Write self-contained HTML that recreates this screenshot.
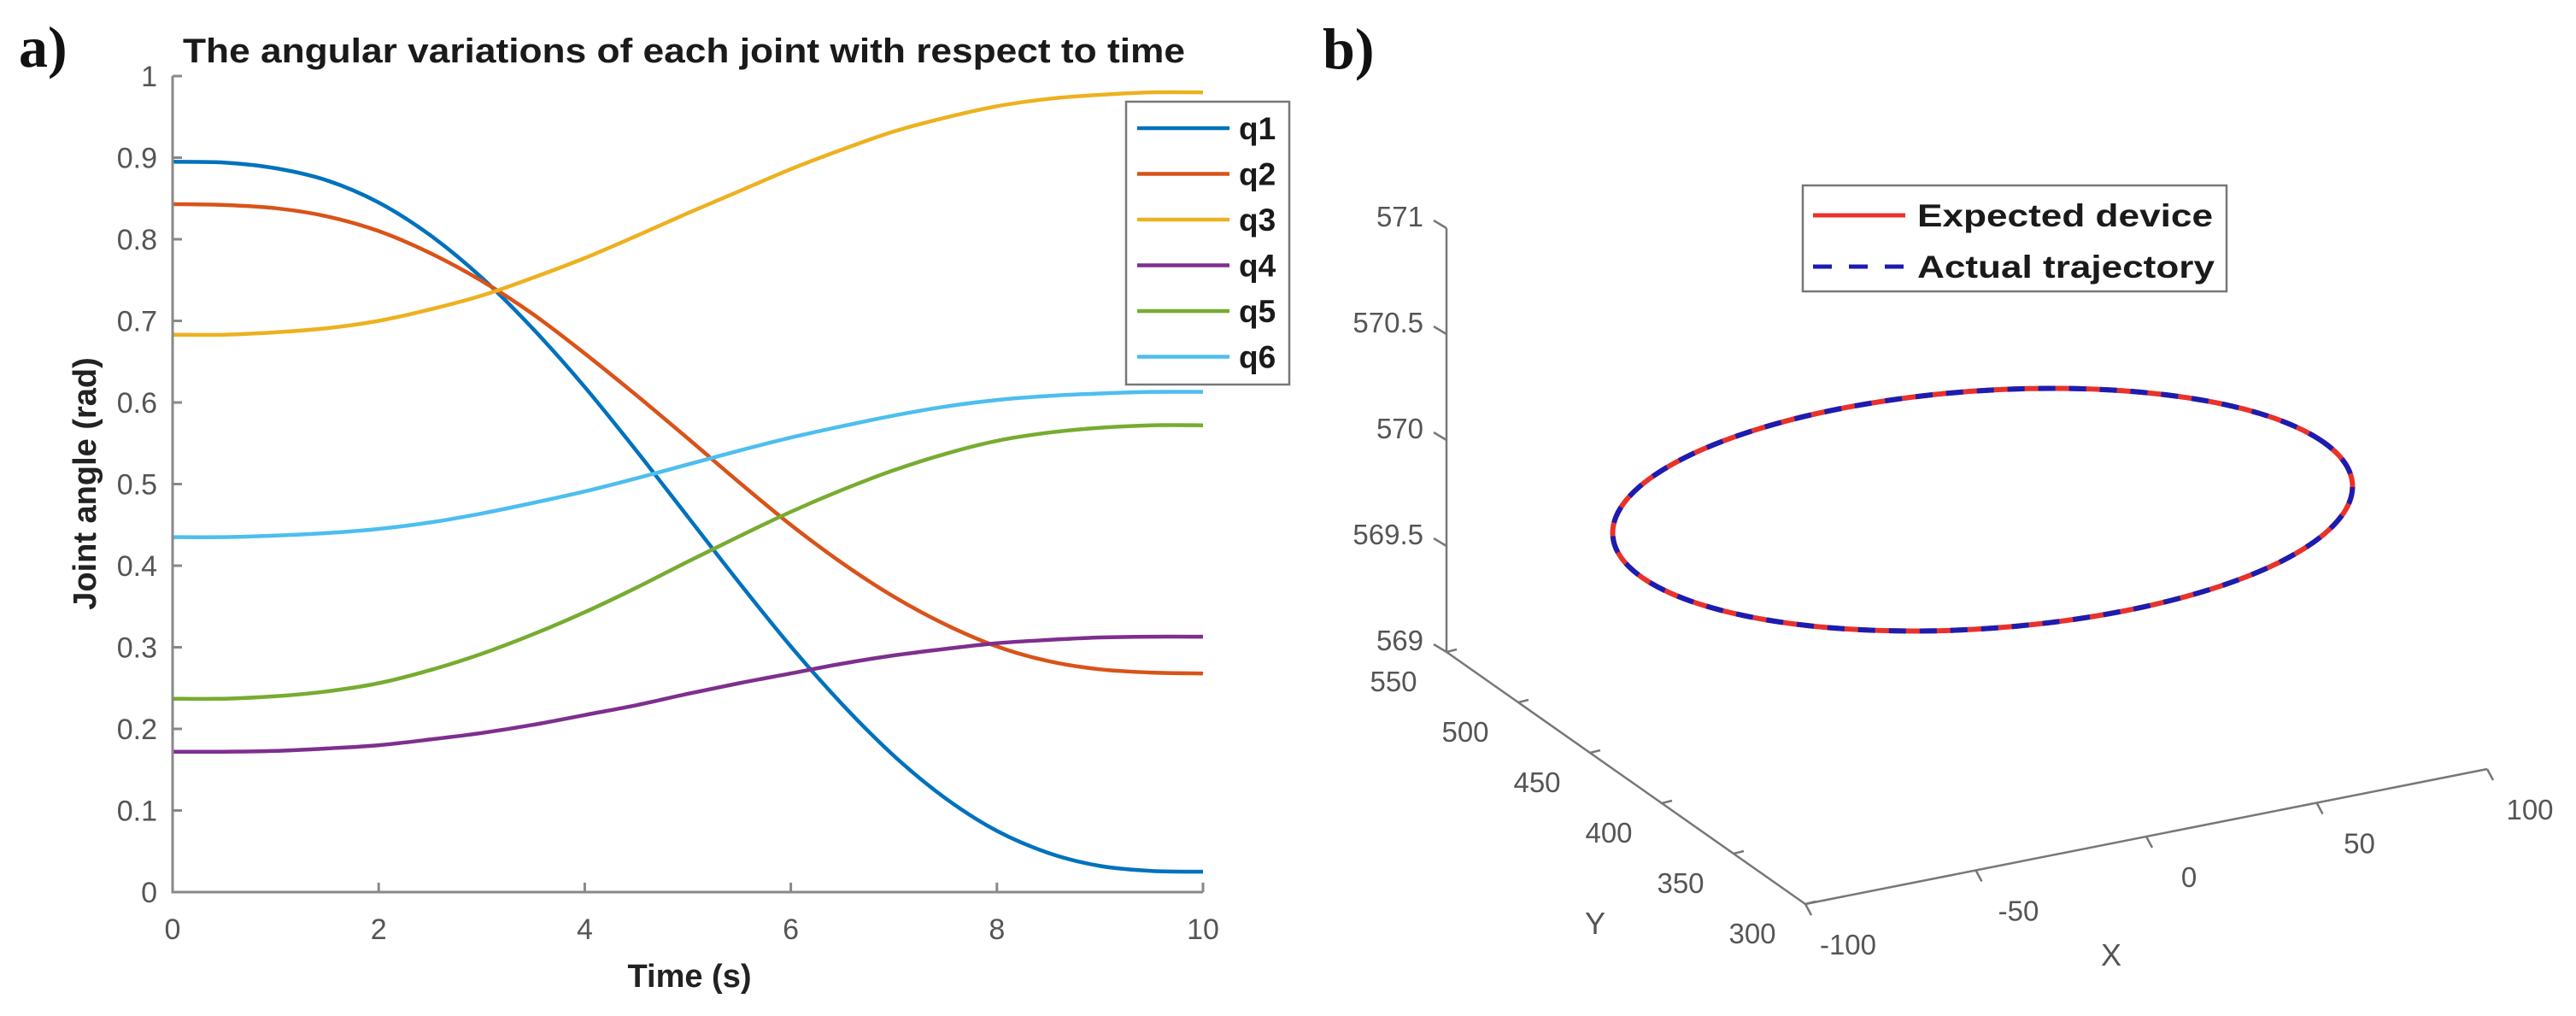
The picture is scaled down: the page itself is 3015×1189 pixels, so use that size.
<!DOCTYPE html>
<html><head><meta charset="utf-8"><style>
html,body{margin:0;padding:0;background:#fff;}
svg{display:block;font-family:"Liberation Sans",Arial,sans-serif;}
</style></head><body>
<svg id="svg" width="3015" height="1189" viewBox="0 0 3015 1189" xmlns="http://www.w3.org/2000/svg">
<text x="22" y="78" font-family="Liberation Serif,serif" font-weight="bold" font-size="68" fill="#111">a)</text>
<text x="1548" y="80" font-family="Liberation Serif,serif" font-weight="bold" font-size="68" fill="#111">b)</text>
<text x="214" y="73" font-weight="bold" font-size="40" fill="#1a1a1a" textLength="1173" lengthAdjust="spacingAndGlyphs">The angular variations of each joint with respect to time</text>
<text transform="translate(112,566) rotate(-90)" text-anchor="middle" font-weight="bold" font-size="38" fill="#222">Joint angle (rad)</text>
<text x="807" y="1155" text-anchor="middle" font-weight="bold" font-size="38" fill="#222">Time (s)</text>
<g id="gA"></g>
<g id="gB"></g>
</svg>
<script>
// ---- Panel a data ----
const times = [0,0.5,1,1.5,2,2.5,3,3.5,4,4.5,5,5.5,6,6.5,7,7.5,8,8.5,9,9.5,10];
const q1 = [.895,.894,.887,.872,.845,.805,.753,.690,.619,.541,.460,.379,.301,.230,.167,.115,.075,.048,.032,.026,.025];
const q2 = [.843,.842,.838,.828,.810,.783,.749,.708,.660,.609,.556,.502,.450,.403,.362,.328,.301,.283,.273,.269,.268];
const q3 = [.683,.683,.686,.691,.700,.714,.731,.753,.777,.804,.832,.859,.886,.910,.932,.949,.963,.972,.977,.980,.980];
const q4 = [.172,.172,.173,.176,.180,.187,.195,.205,.217,.229,.243,.256,.268,.280,.290,.298,.305,.309,.312,.313,.313];
const q5 = [.237,.237,.240,.246,.256,.272,.292,.316,.343,.373,.405,.436,.466,.493,.517,.537,.553,.563,.569,.572,.572];
const q6 = [.435,.435,.437,.440,.445,.453,.464,.477,.491,.507,.524,.541,.557,.571,.584,.595,.603,.608,.611,.613,.613];
const seriesNames = ["q1","q2","q3","q4","q5","q6"];
const xTicks = [0,2,4,6,8,10];
const yTicks = [0,0.1,0.2,0.3,0.4,0.5,0.6,0.7,0.8,0.9,1];
// ---- Panel b data ----
const trajX = [100,96.6,86.6,70.7,50,25.9,0,-25.9,-50,-70.7,-86.6,-96.6,-100,-96.6,-86.6,-70.7,-50,-25.9,0,25.9,50,70.7,86.6,96.6];
const trajY = [414,439.9,464,484.7,500.6,510.6,514,510.6,500.6,484.7,464,439.9,414,388.1,364,343.3,327.4,317.4,314,317.4,327.4,343.3,364,388.1];
const trajZ = [570,570,570,570,570,570,570,570,570,570,570,570,570,570,570,570,570,570,570,570,570,570,570,570];
const bxTicks = [-100,-50,0,50,100];
const byTicks = [300,350,400,450,500,550];
const bzTicks = [569,569.5,570,570.5,571];
const bzLabels = ["569","569.5","570","570.5","571"];

const NS="http://www.w3.org/2000/svg";
function mk(tag,attrs,parent){const e=document.createElementNS(NS,tag);for(const k in attrs)e.setAttribute(k,attrs[k]);parent.appendChild(e);return e;}
function smooth(pts,closed){
  const n=pts.length;let d="M"+pts[0][0].toFixed(1)+","+pts[0][1].toFixed(1);
  const segs=closed?n:n-1;
  for(let i=0;i<segs;i++){
    const p0=pts[closed?(i-1+n)%n:Math.max(i-1,0)],p1=pts[i],p2=pts[(i+1)%n],p3=pts[closed?(i+2)%n:Math.min(i+2,n-1)];
    const c1=[p1[0]+(p2[0]-p0[0])/6,p1[1]+(p2[1]-p0[1])/6],c2=[p2[0]-(p3[0]-p1[0])/6,p2[1]-(p3[1]-p1[1])/6];
    d+="C"+c1[0].toFixed(1)+","+c1[1].toFixed(1)+" "+c2[0].toFixed(1)+","+c2[1].toFixed(1)+" "+p2[0].toFixed(1)+","+p2[1].toFixed(1);
  }
  return closed?d+"Z":d;
}
// ---- Panel a ----
const gA=document.getElementById('gA');
const X0=202,X1=1408,Y0=1044,Y1=89;
const sx=t=>X0+(t-0)/(10-0)*(X1-X0);
const sy=v=>Y0+(v-0)/(1-0)*(Y1-Y0);
const colors=["#0072BD","#D95319","#EDB120","#7E2F8E","#77AC30","#4DBEEE"];
const allSeries=[q1,q2,q3,q4,q5,q6];
allSeries.forEach((s,i)=>{
  const p=mk('path',{d:smooth(s.map((v,j)=>[sx(times[j]),sy(v)]),false),fill:"none",stroke:colors[i],"stroke-width":4.5},gA);
  
  
});
const axA=mk('path',{d:`M${X0},${Y1}V${Y0}H${X1}`,fill:"none",stroke:"#888","stroke-width":3},gA);


yTicks.forEach(v=>{
  mk('line',{x1:X0,x2:X0+11,y1:sy(v),y2:sy(v),stroke:"#888","stroke-width":3},gA);
  const t=mk('text',{x:184,y:sy(v)+12,"text-anchor":"end","font-size":34,fill:"#555"},gA);
  t.textContent=String(v);
  
  
});
xTicks.forEach(v=>{
  mk('line',{x1:sx(v),x2:sx(v),y1:Y0,y2:Y0-11,stroke:"#888","stroke-width":3},gA);
  const t=mk('text',{x:sx(v),y:1099,"text-anchor":"middle","font-size":34,fill:"#555"},gA);
  t.textContent=String(v);
  
  
});
const legA=mk('g',{},gA);


mk('rect',{x:1318,y:119,width:191,height:331,fill:"#fff",stroke:"#777","stroke-width":2.5},legA);
seriesNames.forEach((n,i)=>{
  const y=150+i*53.5;
  const ge=mk('g',{},legA);
  
  
  mk('line',{x1:1331,x2:1439,y1:y,y2:y,stroke:colors[i],"stroke-width":4.5},ge);
  const t=mk('text',{x:1450,y:y+13,"font-size":37,"font-weight":"bold",fill:"#1a1a1a"},ge);
  t.textContent=n;
});
// ---- Panel b ----
const gB=document.getElementById('gB');
const O=[2113,1058];
function P(x,y,z){return [O[0]+(x+100)/50*199.5+(y-300)/50*(-84),O[1]+(x+100)/50*(-39.5)+(y-300)/50*(-59)+(z-569)/0.5*(-124)];}
const bAxes=mk('g',{stroke:"#777","stroke-width":2.5,fill:"none"},gB);


let a=P(-100,550,569),b=P(-100,550,571);mk('line',{x1:a[0],y1:a[1],x2:b[0],y2:b[1]},bAxes);
a=P(-100,300,569);b=P(-100,550,569);mk('line',{x1:a[0],y1:a[1],x2:b[0],y2:b[1]},bAxes);
a=P(-100,300,569);b=P(100,300,569);mk('line',{x1:a[0],y1:a[1],x2:b[0],y2:b[1]},bAxes);
bzTicks.forEach((v,i)=>{
  const p=P(-100,550,v);
  mk('line',{x1:p[0],y1:p[1],x2:p[0]-15,y2:p[1]-9},bAxes);
  const t=mk('text',{x:1666,y:p[1]-2,"text-anchor":"end","font-size":33,fill:"#555",stroke:"none"},gB);
  t.textContent=bzLabels[i];
  
  
});
byTicks.forEach(v=>{
  const p=P(-100,v,569);
  mk('line',{x1:p[0],y1:p[1],x2:p[0]+12,y2:p[1]-3},bAxes);
  const t=mk('text',{x:p[0]-62,y:p[1]+46,"text-anchor":"middle","font-size":33,fill:"#555",stroke:"none"},gB);
  t.textContent=String(v);
  
  
});
bxTicks.forEach(v=>{
  const p=P(v,300,569);
  mk('line',{x1:p[0],y1:p[1],x2:p[0]+7,y2:p[1]+13},bAxes);
  const t=mk('text',{x:p[0]+50,y:p[1]+59,"text-anchor":"middle","font-size":33,fill:"#555",stroke:"none"},gB);
  t.textContent=String(v);
  
  
});
let t=mk('text',{x:1867,y:1093,"text-anchor":"middle","font-size":36,fill:"#555"},gB);t.textContent="Y";


t=mk('text',{x:2471,y:1130,"text-anchor":"middle","font-size":36,fill:"#555"},gB);t.textContent="X";


const pts=trajX.map((x,i)=>P(x,trajY[i],trajZ[i]));
const dPath=smooth(pts,true);
let e=mk('path',{d:dPath,fill:"none",stroke:"#e8322c","stroke-width":6},gB);


e=mk('path',{d:dPath,fill:"none",stroke:"#1c1cb0","stroke-width":6,"stroke-dasharray":"20 16"},gB);


const legB=mk('g',{},gB);


mk('rect',{x:2110,y:217,width:496,height:124,fill:"#fff",stroke:"#777","stroke-width":2.5},legB);
let le=mk('g',{},legB);


mk('line',{x1:2122,x2:2230,y1:252,y2:252,stroke:"#e8322c","stroke-width":5},le);
t=mk('text',{x:2244,y:265,"font-size":37,"font-weight":"bold",fill:"#1a1a1a",textLength:346,lengthAdjust:"spacingAndGlyphs"},le);t.textContent="Expected device";
le=mk('g',{},legB);


mk('line',{x1:2122,x2:2230,y1:312,y2:312,stroke:"#1c1cb0","stroke-width":5,"stroke-dasharray":"22 20"},le);
t=mk('text',{x:2244,y:325,"font-size":37,"font-weight":"bold",fill:"#1a1a1a",textLength:348,lengthAdjust:"spacingAndGlyphs"},le);t.textContent="Actual trajectory";
</script>
</body></html>
